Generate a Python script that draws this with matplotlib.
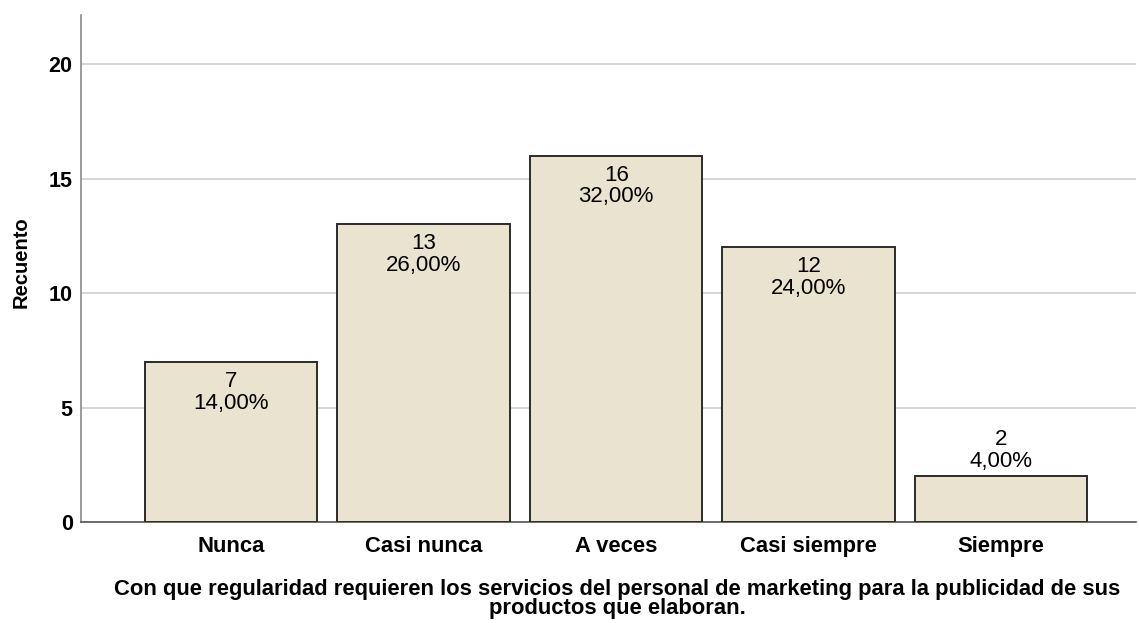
import matplotlib
matplotlib.use("Agg")
import matplotlib.pyplot as plt

categories = ["Nunca", "Casi nunca", "A veces", "Casi siempre", "Siempre"]
counts = [7, 13, 16, 12, 2]
percents = ["14,00%", "26,00%", "32,00%", "24,00%", "4,00%"]
yticks = [0, 5, 10, 15, 20]
xlabel = "Con que regularidad requieren los servicios del personal de marketing para la publicidad de sus\nproductos que elaboran."
ylabel = "Recuento"

plt.rcParams['font.family'] = ['Liberation Sans', 'DejaVu Sans']

fig = plt.figure(figsize=(11.39, 6.23), dpi=100)
ax = fig.add_axes([81/1139, 1-522/623, (1136-81)/1139, (522-15)/623])

x = list(range(len(categories)))
bars = ax.bar(x, counts, width=0.896, color="#E9E3D0", edgecolor="#2b2b2b", linewidth=1.4, zorder=3)

ax.set_xlim(-0.78, 4.7)
ax.set_ylim(0, 22.14)
ax.set_yticks(yticks)
ax.set_yticklabels([str(t) for t in yticks], fontweight='bold', fontsize=15.5)
ax.set_xticks(x)
ax.set_xticklabels(categories, fontweight='bold', fontsize=15.8)
ax.tick_params(axis='x', length=0, pad=10)
ax.tick_params(axis='y', length=0, pad=6)
ax.grid(axis='y', color='#d2d2d2', linewidth=1.3, zorder=0)
ax.set_axisbelow(True)

for s in ['top', 'right']:
    ax.spines[s].set_visible(False)
ax.spines['left'].set_color('#8a8a8a')
ax.spines['left'].set_linewidth(1.2)
ax.spines['bottom'].set_color('#555555')
ax.spines['bottom'].set_linewidth(1.2)

for xi, c, p in zip(x, counts, percents):
    txt = f"{c}\n{p}"
    if c >= 4:
        ax.annotate(txt, (xi, c), xytext=(0, -6.5), textcoords='offset points',
                    ha='center', va='top', fontsize=16, linespacing=1.05, zorder=4)
    else:
        ax.annotate(txt, (xi, c), xytext=(0, 3), textcoords='offset points',
                    ha='center', va='bottom', fontsize=16, linespacing=1.05, zorder=4)

fig.text(617/1139, 1-599/623, xlabel, ha='center', va='center', fontsize=15.8,
         fontweight='bold', linespacing=0.85)
fig.text(21/1139, 1-262/623, ylabel, ha='center', va='center', rotation=90,
         fontsize=14.5, fontweight='bold')

fig.savefig("out.png", dpi=100)
